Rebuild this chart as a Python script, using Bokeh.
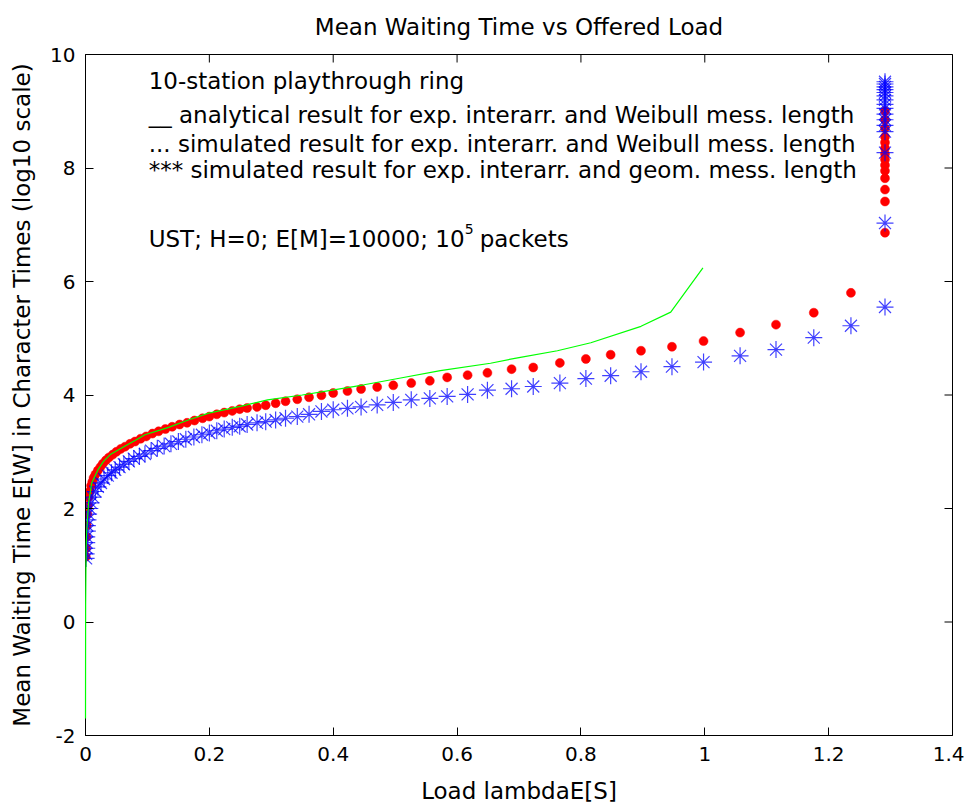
import math
from bokeh.plotting import figure
from bokeh.models import FixedTicker, Range1d, ColumnDataSource
from bokeh.core.properties import value
from bokeh.embed import file_html
from bokeh.resources import INLINE

# ---------------- data ----------------
x_ticks = [0, 0.2, 0.4, 0.6, 0.8, 1.0, 1.2, 1.4]
x_tick_labels = ["0", "0.2", "0.4", "0.6", "0.8", "1", "1.2", "1.4"]
y_ticks = [-2, 0, 2, 4, 6, 8, 10]
y_tick_labels = ["-2", "0", "2", "4", "6", "8", "10"]

# analytical result (exp. interarrival, Weibull message length)
analytic_load = [0.0, 0.0002, 0.001, 0.002, 0.005, 0.01, 0.02, 0.029, 0.04, 0.059,
                 0.08, 0.096, 0.12, 0.134, 0.166, 0.199, 0.25, 0.294, 0.35, 0.401,
                 0.45, 0.509, 0.573, 0.654, 0.70, 0.762, 0.816, 0.897, 0.945, 0.997]
analytic_w = [-1.7, 0.3, 1.3, 1.6, 2.1, 2.45, 2.68, 2.83, 2.95, 3.07,
              3.2, 3.30, 3.38, 3.43, 3.56, 3.68, 3.80, 3.915, 4.0, 4.09,
              4.18, 4.30, 4.43, 4.56, 4.66, 4.78, 4.92, 5.21, 5.46, 6.24]

# simulated result (exp. interarrival, Weibull message length)
weib_load = [0.0005, 0.001, 0.0015, 0.002, 0.003, 0.004, 0.005, 0.007, 0.009, 0.011,
             0.013, 0.016, 0.02, 0.024, 0.028, 0.033, 0.038, 0.044, 0.05, 0.057,
             0.064, 0.072, 0.08, 0.089, 0.098, 0.108, 0.118, 0.129, 0.14, 0.152,
             0.164, 0.176, 0.189, 0.2, 0.212, 0.224, 0.237, 0.249, 0.261, 0.277,
             0.291, 0.307, 0.323, 0.342, 0.361, 0.381, 0.400, 0.423, 0.445, 0.471,
             0.497, 0.526, 0.556, 0.584, 0.617, 0.649, 0.688, 0.723, 0.766, 0.808,
             0.848, 0.897, 0.947, 0.998, 1.057, 1.115, 1.176, 1.236,
             1.291, 1.291, 1.291, 1.291, 1.291, 1.291, 1.291, 1.291, 1.291, 1.291,
             1.291, 1.291, 1.291, 1.291]
weib_w = [1.15, 1.3, 1.5, 1.7, 1.9, 2.05, 2.2, 2.3, 2.4, 2.47,
          2.54, 2.6, 2.67, 2.73, 2.79, 2.85, 2.9, 2.95, 3.0, 3.05,
          3.09, 3.14, 3.18, 3.23, 3.27, 3.32, 3.36, 3.40, 3.44, 3.48,
          3.51, 3.55, 3.59, 3.62, 3.66, 3.69, 3.72, 3.75, 3.77, 3.79,
          3.82, 3.855, 3.89, 3.925, 3.96, 3.995, 4.035, 4.07, 4.105, 4.14,
          4.17, 4.21, 4.25, 4.31, 4.35, 4.39, 4.455, 4.485, 4.565, 4.635,
          4.71, 4.78, 4.85, 4.95, 5.10, 5.24, 5.45, 5.80,
          6.86, 7.41, 7.62, 7.82, 7.95, 8.05, 8.15, 8.25, 8.35, 8.45,
          8.55, 8.7, 8.85, 9.0]

# simulated result (exp. interarrival, geometric message length)
geom_load = [0.001, 0.001, 0.002, 0.002, 0.002, 0.003, 0.003, 0.004, 0.005, 0.007,
             0.009, 0.012, 0.016, 0.02, 0.025, 0.03, 0.036, 0.042, 0.048, 0.055,
             0.062, 0.07, 0.078, 0.087, 0.096, 0.106, 0.116, 0.127, 0.138, 0.15,
             0.162, 0.175, 0.188, 0.2, 0.212, 0.224, 0.237, 0.249, 0.261, 0.277,
             0.291, 0.307, 0.323, 0.342, 0.361, 0.381, 0.400, 0.423, 0.445, 0.471,
             0.497, 0.526, 0.556, 0.584, 0.617, 0.649, 0.688, 0.723, 0.766, 0.808,
             0.848, 0.897, 0.947, 0.998, 1.057, 1.115, 1.176, 1.236,
             1.291, 1.291, 1.291, 1.291, 1.291, 1.291, 1.291, 1.291, 1.291, 1.291,
             1.291, 1.291, 1.291, 1.291, 1.291, 1.291]
geom_w = [1.12, 1.2, 1.3, 1.4, 1.5, 1.6, 1.7, 1.8, 1.9, 2.0,
          2.1, 2.2, 2.3, 2.38, 2.45, 2.52, 2.58, 2.63, 2.68, 2.73,
          2.78, 2.83, 2.88, 2.92, 2.96, 3.02, 3.06, 3.10, 3.14, 3.18,
          3.22, 3.26, 3.30, 3.33, 3.37, 3.40, 3.43, 3.45, 3.48, 3.51,
          3.53, 3.56, 3.59, 3.62, 3.66, 3.71, 3.74, 3.765, 3.79, 3.825,
          3.87, 3.915, 3.94, 3.975, 4.01, 4.085, 4.11, 4.15, 4.21, 4.29,
          4.34, 4.41, 4.50, 4.58, 4.69, 4.80, 5.01, 5.22,
          5.55, 7.03, 8.27, 8.64, 8.75, 8.85, 8.95, 9.05, 9.12, 9.2,
          9.27, 9.33, 9.38, 9.43, 9.48, 9.52, 9.56, 9.58]

title_text = "Mean Waiting Time vs Offered Load"
notes = ["10-station playthrough ring",
         "__ analytical result for exp. interarr. and Weibull mess. length",
         "... simulated result for exp. interarr. and Weibull mess. length",
         "*** simulated result for exp. interarr. and geom. mess. length"]
note_main = "UST; H=0; E[M]=10000; 10"
note_sup = "5"
note_tail = "packets"

# ---------------- figure ----------------
FONT = "DejaVu Sans"
X_MIN, X_MAX, Y_MIN, Y_MAX = 0, 1.4, -2, 10

p = figure(width=964, height=806,
           x_range=Range1d(X_MIN, X_MAX), y_range=Range1d(Y_MIN, Y_MAX),
           output_backend="svg", toolbar_location=None,
           min_border_left=85, min_border_right=12,
           min_border_top=54, min_border_bottom=70,
           title=title_text)

p.title.align = "center"
p.title.vertical_align = "top"
p.title.text_font = FONT
p.title.text_font_size = "23px"
p.title.text_font_style = "normal"
p.title.text_color = "black"
p.title.standoff = 25

p.xgrid.visible = False
p.ygrid.visible = False
p.outline_line_color = "black"
p.outline_line_width = 1
p.background_fill_color = "white"
p.border_fill_color = "white"

def style_axis(ax, ticks, labels):
    ax.ticker = FixedTicker(ticks=ticks)
    ax.major_label_overrides = {t: l for t, l in zip(ticks, labels)}
    ax.minor_tick_line_color = None
    ax.major_tick_in = 8
    ax.major_tick_out = 0
    ax.major_tick_line_color = "black"
    ax.axis_line_color = "black"
    ax.major_label_text_font = FONT
    ax.major_label_text_color = "black"
    ax.major_label_text_font_size = "20px"

style_axis(p.xaxis[0], x_ticks, x_tick_labels)
style_axis(p.yaxis[0], y_ticks, y_tick_labels)
p.xaxis[0].major_label_standoff = 11
p.yaxis[0].major_label_standoff = 10

p.xaxis[0].axis_label = "Load lambdaE[S]"
p.yaxis[0].axis_label = "Mean Waiting Time E[W] in Character Times (log10 scale)"
for ax in (p.xaxis[0], p.yaxis[0]):
    ax.axis_label_text_font = FONT
    ax.axis_label_text_font_size = "23px"
    ax.axis_label_text_font_style = "normal"
    ax.axis_label_text_color = "black"
p.xaxis[0].axis_label_standoff = 14
p.yaxis[0].axis_label_standoff = 12

# inward tick marks on the top and right edges of the box (half of each
# 16px dash is clipped by the frame, leaving an 8px inward tick)
p.scatter(x=x_ticks, y=[Y_MAX] * len(x_ticks), marker="dash", size=16,
          angle=math.pi / 2, line_color="black", line_width=1)
p.scatter(x=[X_MAX] * len(y_ticks), y=y_ticks, marker="dash", size=16,
          line_color="black", line_width=1)

# ---------------- data marks ----------------
src_weib = ColumnDataSource(dict(x=weib_load, y=weib_w))
src_an = ColumnDataSource(dict(x=analytic_load, y=analytic_w))
src_geom = ColumnDataSource(dict(x=geom_load, y=geom_w))

p.scatter("x", "y", source=src_weib, marker="circle", size=9,
          fill_color="#ff0000", line_color="#ff0000", line_width=0.5)
p.line("x", "y", source=src_an, line_color="#00ff00", line_width=1.2,
       level="overlay")
p.scatter("x", "y", source=src_geom, marker="asterisk", size=17,
          line_color="#0000ff", line_alpha=0.75, line_width=1.2)

# ---------------- annotations ----------------
note_x = 0.102
note_y = [9.526, 8.939, 8.428, 7.960]
note_y2 = 6.750
p.text(x=[note_x] * len(notes), y=note_y, text=notes,
       text_font=value(FONT), text_font_size="23px", text_color="black",
       text_baseline="alphabetic", text_align="left")
p.text(x=[note_x], y=[note_y2], text=[note_main],
       text_font=value(FONT), text_font_size="23px", text_color="black",
       text_baseline="alphabetic", text_align="left")
p.text(x=[note_x], y=[note_y2], text=[note_sup], x_offset=316, y_offset=-10,
       text_font=value(FONT), text_font_size="14px", text_color="black",
       text_baseline="alphabetic", text_align="left")
p.text(x=[note_x], y=[note_y2], text=[note_tail], x_offset=331,
       text_font=value(FONT), text_font_size="23px", text_color="black",
       text_baseline="alphabetic", text_align="left")

open("out.html", "w").write(file_html(p, INLINE))
